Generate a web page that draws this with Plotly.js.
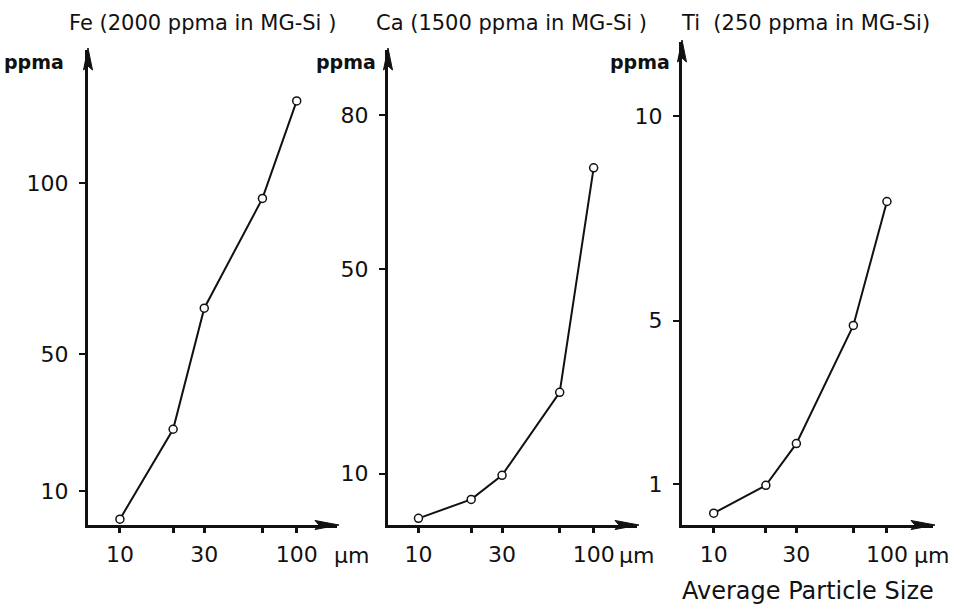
<!DOCTYPE html>
<html>
<head>
<meta charset="utf-8">
<script src="https://cdn.plot.ly/plotly-3.0.1.min.js"></script>
<style>html,body{margin:0;padding:0;background:#fff;}#chart{width:961px;height:605px;}</style>
</head>
<body>
<div id="chart"></div>
<script>
// ---- data ----
const sizes = [10, 20, 30, 64, 100];             // average particle size, µm
const feValues = [1.7, 28, 63.4, 95.5, 124];     // Fe, ppma
const caValues = [1.3, 5.0, 9.7, 25.9, 69.7];    // Ca, ppma
const tiValues = [0.29, 0.97, 1.99, 4.88, 7.91]; // Ti, ppma
const xTickVals = [10, 20, 30, 64, 100];
const xTickText = ['10', '', '30', '', '100'];
const feTicks = [10, 50, 100];
const caTicks = [10, 50, 80];
const tiTicks = [1, 5, 10];
const panelTitles = ['Fe (2000 ppma in MG-Si )', 'Ca (1500 ppma in MG-Si )', 'Ti\u00a0\u00a0(250 ppma in MG-Si)'];
const yUnit = 'ppma';
const xUnit = 'μm';
const xTitle = 'Average Particle Size';

const W = 961, H = 605;
const FONT = 'DejaVu Sans, Arial, sans-serif';
const INK = '#111';

// panel frames in pixels: [x-axis left, x-axis right, y-axis top]
const panels = [[88, 337, 50], [388, 637, 50], [682, 933, 42]];
const AXIS_Y = 525;

function trace(y, i) {
  const s = i === 0 ? '' : String(i + 1);
  return {
    x: sizes, y: y, type: 'scatter', mode: 'lines+markers',
    xaxis: 'x' + s, yaxis: 'y' + s,
    line: {color: INK, width: 2},
    marker: {symbol: 'circle', size: 8, color: '#fff', line: {color: INK, width: 1.5}},
    showlegend: false, hoverinfo: 'skip'
  };
}

function xax(p, r0, r1, anchor) {
  return {
    domain: [p[0] / W, p[1] / W], anchor: anchor, type: 'log',
    range: [Math.log10(r0), Math.log10(r1)],
    showgrid: false, zeroline: false, showline: true, linewidth: 3, linecolor: INK,
    ticks: 'outside', ticklen: 5, tickwidth: 3, tickcolor: INK,
    tickvals: xTickVals, ticktext: xTickText,
    tickfont: {family: FONT, size: 22, color: INK}, ticklabelstandoff: 3
  };
}
function yax(ticks, top, anchor, p) {
  return {
    domain: [1 - AXIS_Y / H, 1 - p[2] / H], anchor: anchor,
    range: [0, top],
    showgrid: false, zeroline: false, showline: true, linewidth: 3, linecolor: INK,
    ticks: 'outside', ticklen: 6, tickwidth: 2, tickcolor: INK,
    tickvals: ticks,
    tickfont: {family: FONT, size: 22, color: INK}, ticklabelstandoff: 6
  };
}

const data = [trace(feValues, 0), trace(caValues, 1), trace(tiValues, 2)];

const annotations = [];
const titleX = [202, 511, 805];
panelTitles.forEach((t, i) => annotations.push({
  text: t, xref: 'paper', yref: 'paper', x: titleX[i] / W, y: 1 - 23 / H,
  xanchor: 'center', yanchor: 'middle', showarrow: false,
  font: {family: FONT, size: 21, color: INK}
}));
const ppmaX = [34, 346, 640];
ppmaX.forEach(px => annotations.push({
  text: yUnit, xref: 'paper', yref: 'paper', x: px / W, y: 1 - 62 / H,
  xanchor: 'center', yanchor: 'middle', showarrow: false,
  font: {family: FONT, size: 19, color: INK, weight: 'bold'}
}));
const umX = [351, 636, 931];
umX.forEach(px => annotations.push({
  text: xUnit, xref: 'paper', yref: 'paper', x: px / W, y: 1 - 555 / H,
  xanchor: 'center', yanchor: 'middle', showarrow: false,
  font: {family: FONT, size: 22, color: INK}
}));
annotations.push({
  text: xTitle, xref: 'paper', yref: 'paper', x: 808 / W, y: 1 - 591 / H,
  xanchor: 'center', yanchor: 'middle', showarrow: false,
  font: {family: FONT, size: 24, color: INK}
});

// decorative arrowheads at the axis ends (paper coordinates from pixels)
const px = x => (x / W).toFixed(5);
const py = y => (1 - y / H).toFixed(5);
const shapes = [];
panels.forEach(p => {
  const ax = p[0], right = p[1], top = p[2];
  shapes.push({
    type: 'path', xref: 'paper', yref: 'paper', fillcolor: INK, line: {color: INK, width: 1},
    path: `M${px(ax)},${py(top - 2)} L${px(ax - 4.5)},${py(top + 20)} L${px(ax)},${py(top + 16)} L${px(ax + 4.5)},${py(top + 20)} Z`
  });
  shapes.push({
    type: 'path', xref: 'paper', yref: 'paper', fillcolor: INK, line: {color: INK, width: 1},
    path: `M${px(right + 2)},${py(AXIS_Y)} L${px(right - 22)},${py(AXIS_Y - 4.5)} L${px(right - 18)},${py(AXIS_Y)} L${px(right - 22)},${py(AXIS_Y + 4.5)} Z`
  });
});

const layout = {
  width: W, height: H,
  margin: {l: 0, r: 0, t: 0, b: 0},
  paper_bgcolor: '#fff', plot_bgcolor: '#fff',
  font: {family: FONT, color: INK},
  xaxis: xax(panels[0], 6.6, 169, 'y'),
  yaxis: yax(feTicks, 138.9, 'x', panels[0]),
  xaxis2: xax(panels[1], 6.7, 176.8, 'y2'),
  yaxis2: yax(caTicks, 92.7, 'x2', panels[1]),
  xaxis3: xax(panels[2], 6.56, 184.5, 'y3'),
  yaxis3: yax(tiTicks, 11.81, 'x3', panels[2]),
  annotations: annotations,
  shapes: shapes
};

Plotly.newPlot('chart', data, layout, {staticPlot: true, displayModeBar: false});
</script>
</body>
</html>
